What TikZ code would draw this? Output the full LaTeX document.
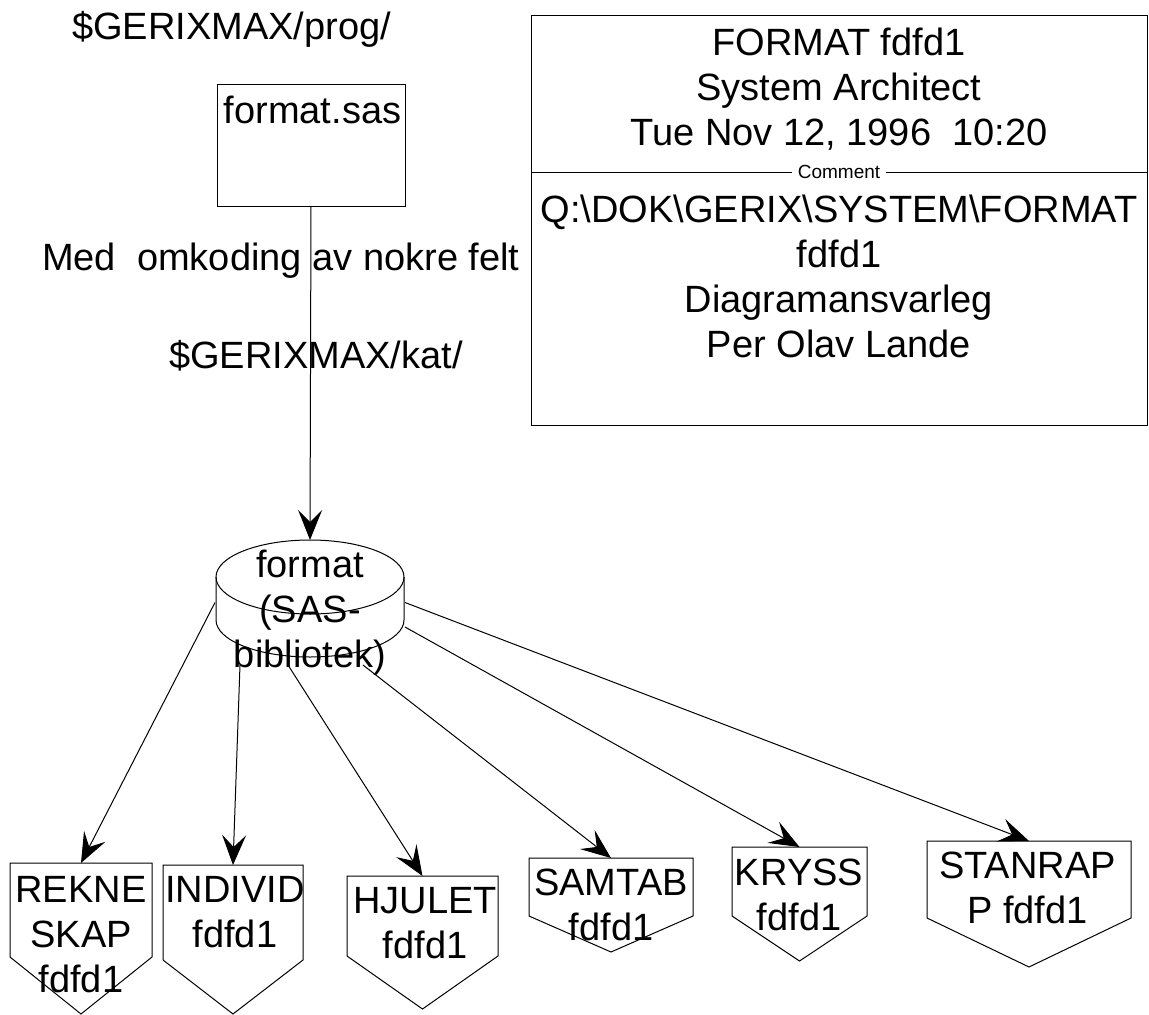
\documentclass[tikz,border=0pt]{standalone}
\usepackage{fontspec}
\setmainfont{Liberation Sans}
\usetikzlibrary{arrows.meta,calc}
\newcommand{\mlines}[1]{\begin{tabular}[t]{@{}c@{}}#1\end{tabular}}
\begin{document}
\begin{tikzpicture}[x=1pt,y=-1pt,
  lbl/.style={font=\fontsize{38}{45}\selectfont, inner sep=0pt, anchor=base},
  lblw/.style={font=\fontsize{38}{45}\selectfont, inner sep=0pt, anchor=base west},
  conn/.style={line width=1pt,-{Stealth[length=30pt,width=24pt,inset=12pt]}},
  shp/.style={line width=1pt},
  hold/.style={draw=none, inner sep=0pt, outer sep=0pt},
  boxed/.style={draw, line width=1pt, inner sep=0pt, outer sep=0pt}
]
\useasboundingbox (0,0) rectangle (1149,1015);

% top-left labels
\node[lblw] (prog) at (72,39) {\$GERIXMAX/prog/};
\node[boxed, minimum width=188pt, minimum height=122pt] (src) at (311,145) {};
\node[lbl] (srclabel) at (312.5,123) {format.sas};
\node[lblw] (med) at (42,270) {Med\ \ omkoding av nokre felt};
\node[lblw] (kat) at (169,368) {\$GERIXMAX/kat/};

% title block
\node[boxed, minimum width=616pt, minimum height=410pt] (title) at (839,220) {};
\draw[shp] ($(title.north west)+(0,157)$) coordinate (divl) -- ($(title.north east)+(0,157)$) coordinate (divr);
\node[fill=white, inner xsep=6pt, inner ysep=2pt, font=\fontsize{19}{22}\selectfont] (comment) at (839,172) {Comment};
\node[lbl] (titletext) at (839,55) {\mlines{FORMAT fdfd1\\System Architect\\Tue Nov 12, 1996 \ 10:20}};
\node[lbl] (commenttext) at (839,222) {\mlines{Q:\textbackslash DOK\textbackslash GERIX\textbackslash SYSTEM\textbackslash FORMAT\\fdfd1\\Diagramansvarleg\\Per Olav Lande}};

% data store (cylinder)
\node[hold, minimum width=190pt, minimum height=125pt] (db) at (310,602.5) {};
\draw[shp] ($(db.center)+(0,-25.5)$) ellipse [x radius=94, y radius=37];
\draw[shp] ($(db.center)+(-94,-25.5)$) -- ($(db.center)+(-94,17.5)$)
  arc[start angle=180, end angle=0, x radius=94, y radius=37]
  -- ($(db.center)+(94,-25.5)$);
\node[lbl] (dblabel) at (310,577) {\mlines{format\\(SAS-\\bibliotek)}};

% off-page connectors
\node[hold, minimum width=142pt, minimum height=94pt] (rekne) at (81,910) {};
\node[hold, minimum width=140pt, minimum height=95pt] (indivd) at (233,912.5) {};
\node[hold, minimum width=151pt, minimum height=80pt] (hjulet) at (422.5,916) {};
\node[hold, minimum width=164pt, minimum height=58pt] (samtab) at (611,887) {};
\node[hold, minimum width=135pt, minimum height=69pt] (kryss) at (799.5,881.5) {};
\node[hold, minimum width=204pt, minimum height=77pt] (stanrap) at (1029,879.5) {};

\foreach \n/\d in {rekne/57, indivd/54, hjulet/53, samtab/36, kryss/45, stanrap/49}{
  \draw[shp, line join=miter] (\n.north west) -- (\n.north east) -- (\n.south east)
     -- ($(\n.south)+(0,\d)$) -- (\n.south west) -- cycle;
}

\node[lbl] (rekneT) at (81,902) {\mlines{REKNE\\SKAP\\fdfd1}};
\node[lbl] (indivdT) at (235,902) {\mlines{INDIVID\\fdfd1}};
\node[lbl] (hjuletT) at (425,913) {\mlines{HJULET\\fdfd1}};
\node[lbl] (samtabT) at (611,895) {\mlines{SAMTAB\\fdfd1}};
\node[lbl] (kryssT) at (799,885) {\mlines{KRYSS\\fdfd1}};
\node[lbl] (stanrapT) at (1027.5,878) {\mlines{STANRAP\\P fdfd1}};

% connectors
\draw[conn] (src.south) -- (db.north);
\draw[conn] (db.west) -- (rekne.north);
\draw[conn] ($(db.south west)+(25,0)$) -- (indivd.north);
\draw[conn] ($(db.south west)+(73,0)$) -- (hjulet.north);
\draw[conn] ($(db.south west)+(148,0)$) -- (samtab.north);
\draw[conn] ($(db.east)+(0,24.5)$) -- (kryss.north);
\draw[conn] (db.east) -- (stanrap.north);
\end{tikzpicture}
\end{document}
